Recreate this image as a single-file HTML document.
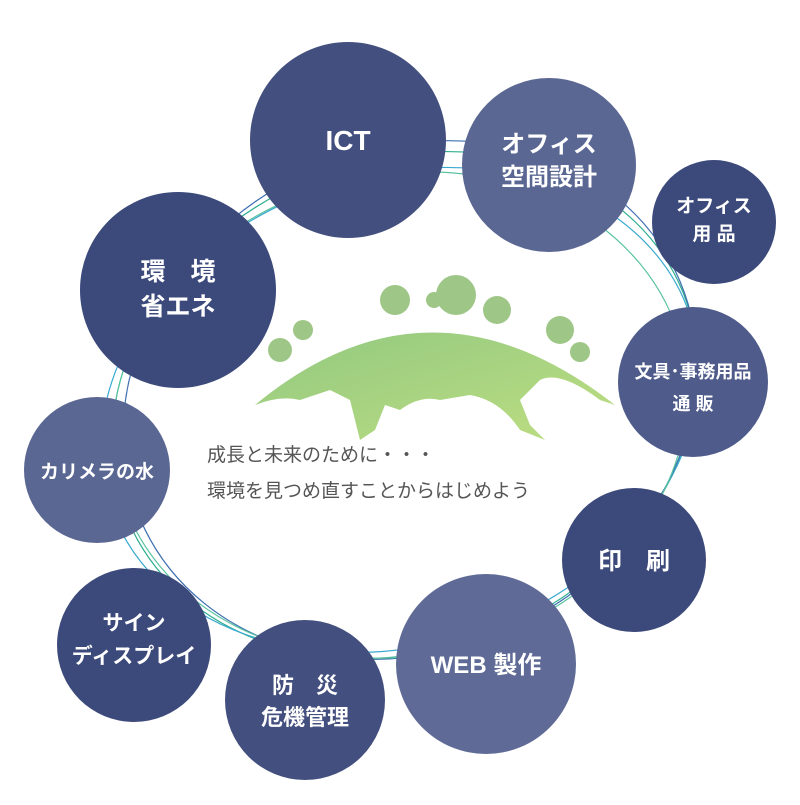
<!DOCTYPE html><html><head><meta charset="utf-8"><style>
body{margin:0;background:#fff}
svg text{font-family:"Liberation Sans","Noto Sans CJK JP",sans-serif;font-weight:bold;fill:#fff;text-anchor:middle}
</style></head><body>
<svg width="800" height="800" viewBox="0 0 800 800" xmlns="http://www.w3.org/2000/svg">
<g fill="none" stroke-width="1.2">
<ellipse cx="405" cy="405" rx="300" ry="245" transform="rotate(-22 405 405)" stroke="#2fae8e"/>
<ellipse cx="400" cy="410" rx="305" ry="235" transform="rotate(-18 400 410)" stroke="#39a9d0"/>
<ellipse cx="410" cy="400" rx="295" ry="250" transform="rotate(-26 410 400)" stroke="#3d6fb0"/>
<ellipse cx="400" cy="415" rx="290" ry="240" transform="rotate(-14 400 415)" stroke="#5bc3a0"/>
</g>
<defs><linearGradient id="g" x1="0" y1="0" x2="1" y2="1"><stop offset="0" stop-color="#7fbf6a"/><stop offset="1" stop-color="#b2d86b"/></linearGradient></defs>
<path d="M255 405 Q430 260 615 405 L600 400 Q560 370 540 380 L520 400 L530 425 L545 440 L520 430 Q500 400 470 395 L440 400 Q420 395 400 410 L385 405 L375 430 L360 440 L350 400 L330 390 L300 400 Q280 395 255 405Z" fill="url(#g)" opacity=".85"/>
<g fill="#86b86a" opacity=".8">
<circle cx="280" cy="350" r="12"/><circle cx="303" cy="330" r="10"/><circle cx="395" cy="300" r="15"/><circle cx="456" cy="295" r="20"/><circle cx="497" cy="310" r="14"/><circle cx="560" cy="330" r="14"/><circle cx="580" cy="352" r="10"/><circle cx="434" cy="300" r="8"/>
</g>
<text x="207" y="461" style="font-weight:normal;fill:#555;font-size:19px;text-anchor:start">成長と未来のために・・・</text>
<text x="207" y="497" style="font-weight:normal;fill:#555;font-size:19px;text-anchor:start">環境を見つめ直すことからはじめよう</text>
<g>
<circle cx="348" cy="140" r="98" fill="#434f7e"/>
<circle cx="549" cy="165" r="87" fill="#5b6793"/>
<circle cx="714" cy="222" r="62" fill="#3c4a7b"/>
<circle cx="178" cy="290" r="98" fill="#3c4a7b"/>
<circle cx="693" cy="382" r="75" fill="#4f5b8a"/>
<circle cx="97" cy="470" r="73" fill="#5b6793"/>
<circle cx="634" cy="560" r="72" fill="#3c4a7b"/>
<circle cx="486" cy="664" r="90" fill="#5f6b96"/>
<circle cx="305" cy="700" r="80" fill="#434f7e"/>
<circle cx="134" cy="645" r="77" fill="#3c4a7b"/>
</g>
<text x="348" y="150" font-size="28">ICT</text>
<text x="549" y="152" font-size="24">オフィス</text><text x="549" y="185" font-size="24">空間設計</text>
<text x="714" y="212" font-size="19">オフィス</text><text x="714" y="240" font-size="19">用 品</text>
<text x="178" y="280" font-size="25">環　境</text><text x="178" y="315" font-size="25">省エネ</text>
<text x="693" y="378" font-size="18">文具･事務用品</text><text x="693" y="410" font-size="18">通 販</text>
<text x="97" y="478" font-size="19">カリメラの水</text>
<text x="634" y="569" font-size="24">印　刷</text>
<text x="486" y="673" font-size="24">WEB 製作</text>
<text x="305" y="693" font-size="22">防　災</text><text x="305" y="725" font-size="22">危機管理</text>
<text x="134" y="630" font-size="21">サイン</text><text x="134" y="663" font-size="21">ディスプレイ</text>
</svg>
</body></html>
